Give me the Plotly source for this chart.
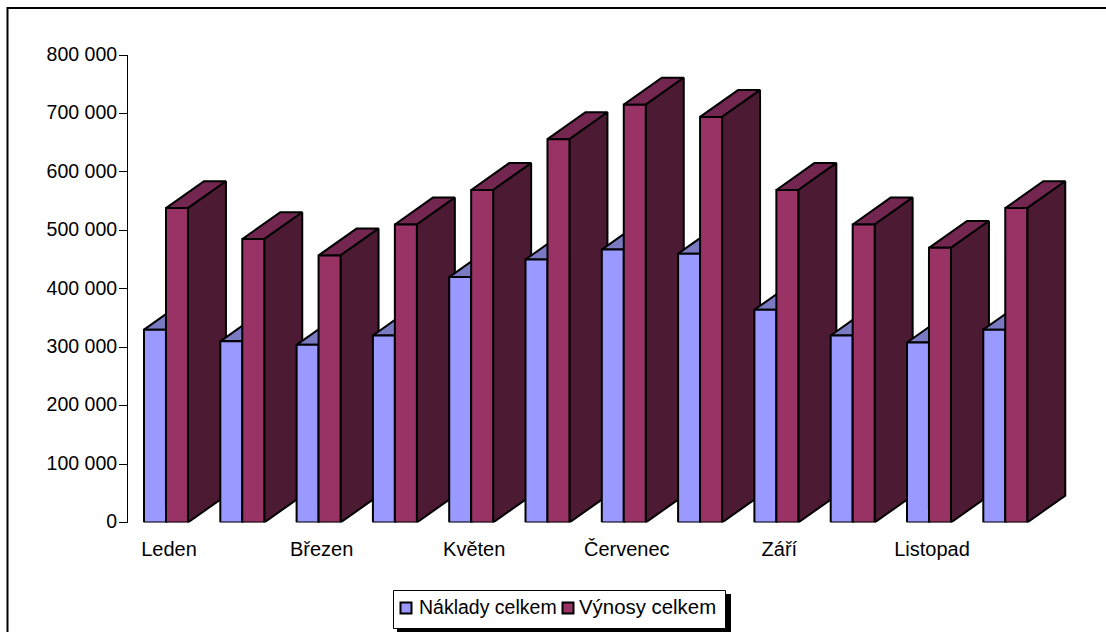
import plotly.graph_objects as go

# Monthly totals per category
months = ["Leden", "Únor", "Březen", "Duben", "Květen", "Červen",
          "Červenec", "Srpen", "Září", "Říjen", "Listopad", "Prosinec"]
naklady = [330000, 310000, 304000, 320000, 420000, 450000,
           467000, 460000, 364000, 320000, 308000, 330000]
vynosy = [538000, 485000, 457000, 510000, 569000, 656000,
          715000, 694000, 569000, 510000, 470000, 538000]
y_ticks = [0, 100000, 200000, 300000, 400000, 500000, 600000, 700000, 800000]
y_labels = ["0", "100 000", "200 000", "300 000", "400 000", "500 000",
            "600 000", "700 000", "800 000"]
shown_months = months[::2]

# Extruded-column proportions, in x-axis and y-axis units
BAR_W = 0.288
DEPTH_X = 0.498
DEPTH_Y = 46000

PLOT_L, PLOT_R, PLOT_T, PLOT_B = 128, 1072, 55, 522.5
W, H = 1106, 632
X0 = (144 + BAR_W * 76.3 - PLOT_L) / 76.3  # group centre of the first month
x_min = -X0
x_max = x_min + (PLOT_R - PLOT_L) / 76.3
FONT = "Liberation Sans"
FONT_SIZE = 19.5


def face(xs, ys, fill):
    return go.Scatter(x=xs, y=ys, mode="lines", fill="toself", fillcolor=fill,
                      line=dict(color="#000000", width=2), hoverinfo="skip",
                      showlegend=False)


def column(x_left, value, front, top, side):
    x_right = x_left + BAR_W
    return [
        face([x_left, x_right, x_right + DEPTH_X, x_left + DEPTH_X, x_left],
             [value, value, value + DEPTH_Y, value + DEPTH_Y, value], top),
        face([x_right, x_right + DEPTH_X, x_right + DEPTH_X, x_right, x_right],
             [0, DEPTH_Y, value + DEPTH_Y, value, 0], side),
        face([x_left, x_right, x_right, x_left, x_left],
             [0, 0, value, value, 0], front),
    ]


fig = go.Figure()
for i in range(len(months)):
    for trace in column(i - BAR_W, naklady[i], "#9999FF", "#7A7AC2", "#5C5C99"):
        fig.add_trace(trace)
    for trace in column(i, vynosy[i], "#993366", "#732650", "#4C1A33"):
        fig.add_trace(trace)


def px(x):
    return x / W


def py(y):
    return 1 - y / H


shapes = [
    # chart frame, open towards the right and the bottom
    dict(type="line", xref="paper", yref="paper", x0=px(7), x1=px(1106), y0=py(8), y1=py(8),
         line=dict(color="#000000", width=2)),
    dict(type="line", xref="paper", yref="paper", x0=px(7.5), x1=px(7.5), y0=py(7), y1=py(632),
         line=dict(color="#000000", width=2)),
    # legend shadow, box and keys
    dict(type="rect", xref="paper", yref="paper", x0=px(397), x1=px(731), y0=py(594), y1=py(632),
         fillcolor="#000000", line=dict(width=0)),
    dict(type="rect", xref="paper", yref="paper", x0=px(393.5), x1=px(725.5), y0=py(590.5), y1=py(628.5),
         fillcolor="#FFFFFF", line=dict(color="#000000", width=1)),
    dict(type="rect", xref="paper", yref="paper", x0=px(400.5), x1=px(411.5), y0=py(602.5), y1=py(613.5),
         fillcolor="#9999FF", line=dict(color="#000000", width=2)),
    dict(type="rect", xref="paper", yref="paper", x0=px(562.5), x1=px(573.5), y0=py(602.5), y1=py(613.5),
         fillcolor="#993366", line=dict(color="#000000", width=2)),
]

annotations = [
    dict(text="Náklady celkem", xref="paper", yref="paper", x=px(417), y=py(607),
         xanchor="left", yanchor="middle", showarrow=False,
         font=dict(family=FONT, size=FONT_SIZE, color="#000000")),
    dict(text="Výnosy celkem", xref="paper", yref="paper", x=px(577), y=py(607),
         xanchor="left", yanchor="middle", showarrow=False,
         font=dict(family=FONT, size=20.4, color="#000000")),
]

fig.update_layout(
    width=W, height=H, autosize=False,
    margin=dict(l=0, r=0, t=0, b=0),
    paper_bgcolor="#FFFFFF", plot_bgcolor="#FFFFFF",
    showlegend=False,
    shapes=shapes, annotations=annotations,
    font=dict(family=FONT, size=FONT_SIZE, color="#000000"),
    xaxis=dict(domain=[px(PLOT_L), px(PLOT_R)], range=[x_min, x_max], automargin=False,
               tickmode="array", tickvals=list(range(0, 12, 2)), ticktext=shown_months,
               showgrid=False, zeroline=False, showline=False, ticks="",
               tickfont=dict(size=20), ticklabelstandoff=12, ticklabelshift=3,
               fixedrange=True),
    yaxis=dict(domain=[py(PLOT_B), py(PLOT_T)], range=[0, 800000], automargin=False,
               tickmode="array", tickvals=y_ticks, ticktext=y_labels,
               showgrid=False, zeroline=False, showline=True, linecolor="#000000", linewidth=1,
               ticks="outside", ticklen=8, tickcolor="#000000", tickwidth=1,
               tickfont=dict(size=FONT_SIZE), ticklabelstandoff=-2, ticklabelshift=-1,
               fixedrange=True),
)

fig.write_html("out.html", config=dict(displayModeBar=False))
